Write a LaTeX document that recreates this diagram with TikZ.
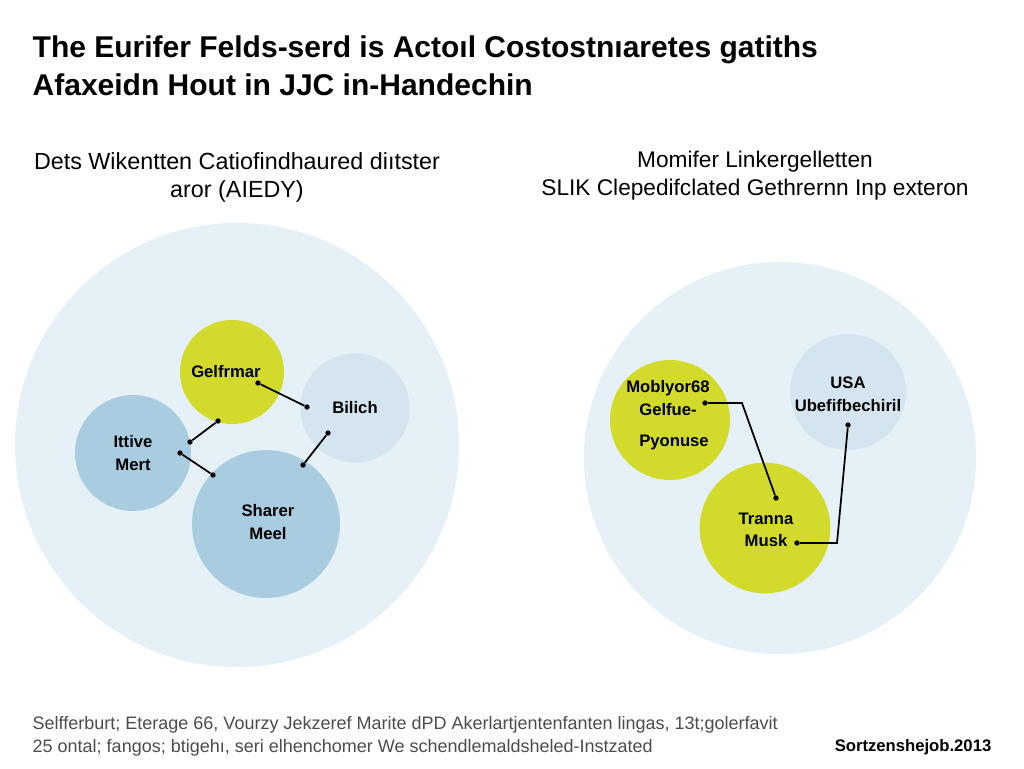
\documentclass[tikz,border=0pt]{standalone}
\usepackage{fontspec}
\setmainfont{Liberation Sans}
\begin{document}
\begin{tikzpicture}[x=0.75pt,y=-0.75pt,
  yel/.style={circle,fill=lime,inner sep=0pt,align=center,font=\fontsize{12.5}{17}\selectfont\bfseries},
  lb/.style={circle,fill=lblue,inner sep=0pt,align=center,font=\fontsize{12.5}{17}\selectfont\bfseries},
  mb/.style={circle,fill=mblue,inner sep=0pt,align=center,font=\fontsize{12.5}{17}\selectfont\bfseries},
  lbl/.style={font=\fontsize{12.5}{17}\selectfont\bfseries,align=center},
  dot/.style={circle,fill=black,inner sep=0pt,minimum size=4pt},
  conn/.style={line width=1.3pt,black}]
\definecolor{bgblue}{HTML}{E6F0F7}
\definecolor{lime}{HTML}{D2DB2C}
\definecolor{lblue}{HTML}{D4E5F0}
\definecolor{mblue}{HTML}{A9CCE0}
\useasboundingbox[fill=white] (0,0) rectangle (1024,768);
\node[anchor=west,font=\fontsize{22.5}{27}\selectfont\bfseries] (t1) at (28,50) {The Eurifer Felds-serd is Actoıl Costostnıaretes gatiths};
\node[anchor=west,font=\fontsize{22.5}{27}\selectfont\bfseries] (t2) at (28,85) {Afaxeidn Hout in JJC in-Handechin};
\node[align=center,font=\fontsize{17.5}{21}\selectfont] (s1) at (237,177) {Dets Wikentten Catiofindhaured diıtster\\aror (AIEDY)};
\node[align=center,font=\fontsize{17}{21}\selectfont] (s2) at (755,176) {Momifer Linkergelletten\\SLIK Clepedifclated Gethrernn Inp exteron};
\fill[bgblue] (237,445) circle (222);
\fill[bgblue] (780,458) circle (196);
\node[yel,minimum size=78] (g) at (232,372) {};
\node[lbl] (gl) at (226,372) {Gelfrmar};
\node[lb,minimum size=82] (b) at (355,408) {};
\node[lbl] (bl) at (355,408) {Bilich};
\node[mb,minimum size=87] (i) at (133,453) {};
\node[lbl] (il) at (133,453) {Ittive\\Mert};
\node[mb,minimum size=111] (s) at (266,524) {};
\node[lbl] (sl) at (268,522) {Sharer\\Meel};
\node[dot] (d1) at (258,383) {}; \node[dot] (d2) at (307,407) {};
\node[dot] (d3) at (218,421) {}; \node[dot] (d4) at (190,442) {};
\node[dot] (d5) at (180,453) {}; \node[dot] (d6) at (213,475) {};
\node[dot] (d7) at (328,433) {}; \node[dot] (d8) at (303,465) {};
\draw[conn] (d1)--(d2); \draw[conn] (d3)--(d4); \draw[conn] (d5)--(d6); \draw[conn] (d7)--(d8);
\node[yel,minimum size=90] (m) at (670,420) {};
\node[lbl] (mt) at (668,398) {Moblyor68\\Gelfue-};
\node[lbl] (mt2) at (674,442) {Pyonuse};
\node[lb,minimum size=87] (u) at (848,392) {};
\node[lbl] (ul) at (848,394) {USA\\Ubefifbechiril};
\node[yel,minimum size=98] (tr) at (765,528) {};
\node[lbl] (tl) at (766,530) {Tranna\\Musk};
\node[dot] (e1) at (705,403) {}; \node[dot] (e2) at (776,498) {};
\node[dot] (e3) at (797,543) {}; \node[dot] (e4) at (848,425) {};
\draw[conn] (e1)--(742,403)--(e2);
\draw[conn] (e3)--(837,543)--(e4);
\node[anchor=west,align=left,text=black!70,font=\fontsize{13.5}{17}\selectfont] (f) at (28,736) {Selfferburt; Eterage 66, Vourzy Jekzeref Marite dPD Akerlartjentenfanten lingas, 13t;golerfavit\\25 ontal; fangos; btigehı, seri elhenchomer We schendlemaldsheled-Instzated};
\node[anchor=east,font=\fontsize{12.5}{15}\selectfont\bfseries] (c) at (996,747) {Sortzenshejob.2013};
\end{tikzpicture}
\end{document}
